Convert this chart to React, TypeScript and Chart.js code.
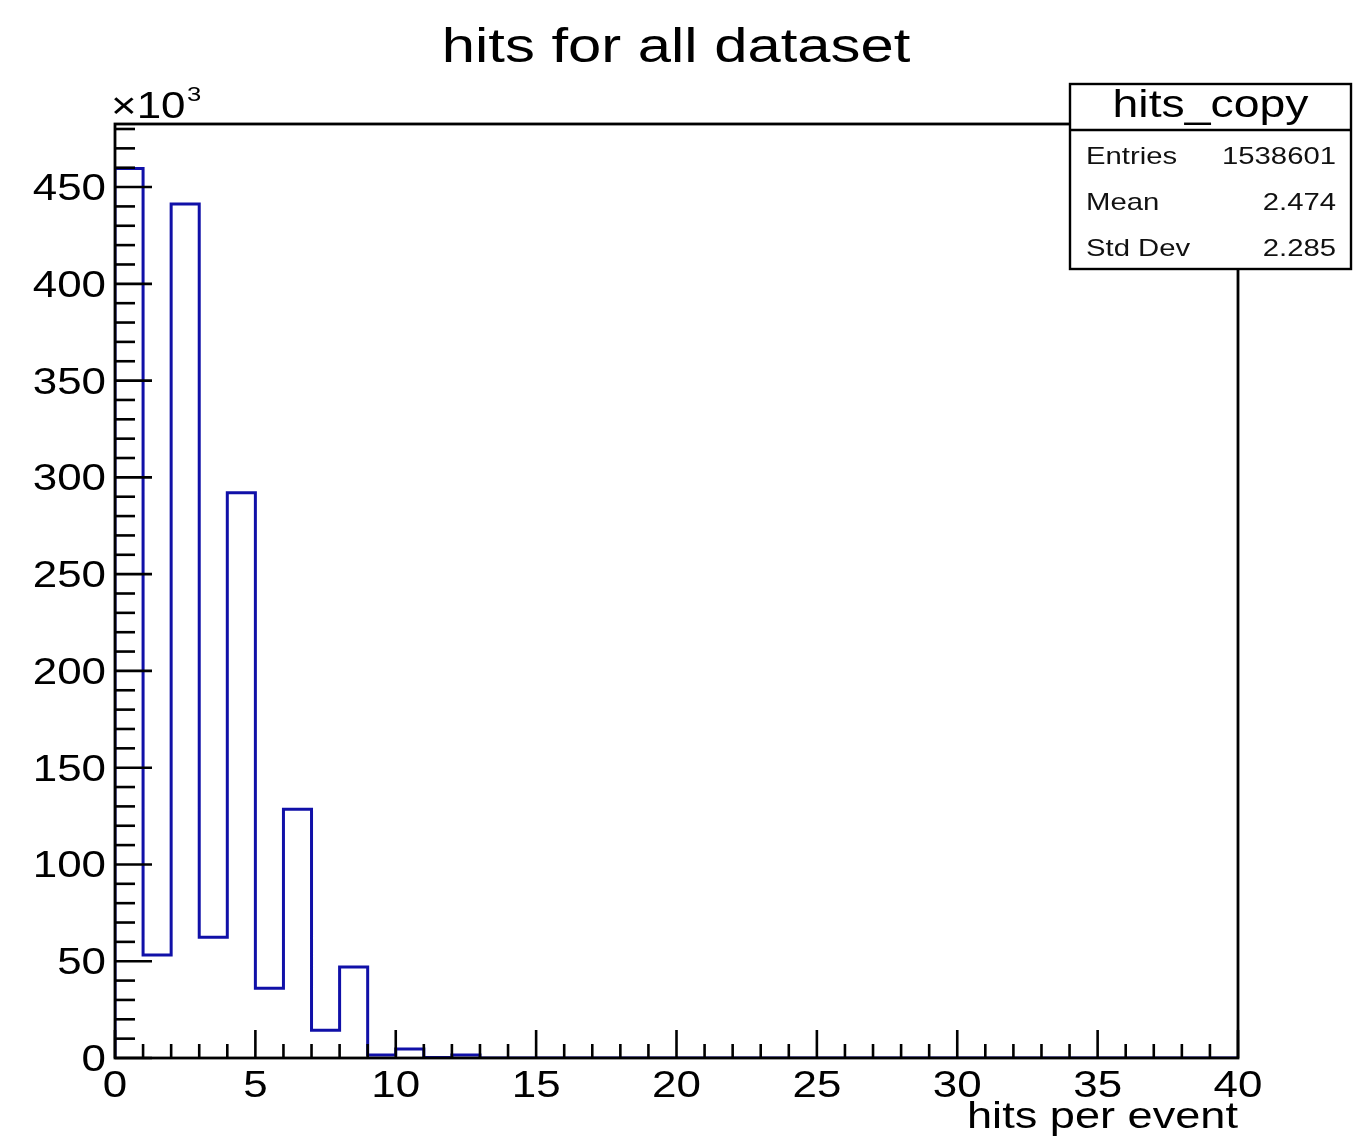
import React, { useEffect, useRef } from "react";
import { Chart, registerables } from "chart.js";

Chart.register(...registerables);

// Histogram "hits_copy": entries per unit-wide bin, in thousands (axis shows ×10³)
const xMin = 0;
const xMax = 40;
const binWidth = 1;
const counts = [
  459.6, 53.2, 441.2, 62.4, 292.1, 36.1, 128.5, 14.4, 47.0, 1.6,
  4.6, 0.2, 1.6, 0, 0, 0, 0, 0, 0, 0,
  0, 0, 0, 0, 0, 0, 0, 0, 0, 0,
  0, 0, 0, 0, 0, 0, 0, 0, 0, 0,
];

const yTickLabels = [0, 50, 100, 150, 200, 250, 300, 350, 400, 450];
const xTickLabels = [0, 5, 10, 15, 20, 25, 30, 35, 40];
const yMinorStep = 10;
const xMinorStep = 1;

const titleText = "hits for all dataset";
const xAxisTitle = "hits per event";
const statsTitle = "hits_copy";
const statLabels = ["Entries", "Mean", "Std Dev"];
const statValues = ["1538601", "2.474", "2.285"];

const yMax = 1.05 * Math.max(...counts);

const FONT = '"Liberation Sans", Arial, Helvetica, sans-serif';
const STRETCH = 1.22;
const LINE_BLUE = "#1010a8";

function drawText(
  ctx: CanvasRenderingContext2D,
  text: string,
  x: number,
  y: number,
  size: number,
  align: CanvasTextAlign,
  color = "#000"
) {
  ctx.save();
  ctx.font = `${size}px ${FONT}`;
  ctx.fillStyle = color;
  ctx.textAlign = align;
  ctx.textBaseline = "alphabetic";
  ctx.translate(x, y);
  ctx.scale(STRETCH, 1);
  ctx.fillText(text, 0, 0);
  ctx.restore();
}

function seg(ctx: CanvasRenderingContext2D, x1: number, y1: number, x2: number, y2: number) {
  ctx.beginPath();
  ctx.moveTo(x1, y1);
  ctx.lineTo(x2, y2);
  ctx.stroke();
}

// Frame, inward ticks, labels and statistics box in the ROOT style
const rootFramePlugin = {
  id: "rootFrame",
  afterDraw(chart: any) {
    const { ctx, chartArea: a } = chart;
    const xs = chart.scales.x;
    const ys = chart.scales.y;
    ctx.save();
    ctx.strokeStyle = "#000";
    ctx.lineCap = "butt";

    // frame
    ctx.lineWidth = 2.8;
    ctx.strokeRect(a.left, a.top, a.right - a.left, a.bottom - a.top);

    // y ticks
    ctx.lineWidth = 2.6;
    for (let k = 0; k * yMinorStep <= yMax; k++) {
      const v = k * yMinorStep;
      const py = ys.getPixelForValue(v);
      const len = v % 50 === 0 ? 37 : 20;
      seg(ctx, a.left, py, a.left + len, py);
    }
    // x ticks
    for (let k = 0; xMin + k * xMinorStep <= xMax; k++) {
      const v = xMin + k * xMinorStep;
      const px = xs.getPixelForValue(v);
      const len = v % 5 === 0 ? 28 : 14;
      seg(ctx, px, a.bottom, px, a.bottom - len);
    }

    // y labels
    yTickLabels.forEach((v) => {
      const py = ys.getPixelForValue(v);
      drawText(ctx, String(v), a.left - 9, py + 13, 36, "right");
    });
    // x labels
    xTickLabels.forEach((v) => {
      const px = xs.getPixelForValue(v);
      drawText(ctx, String(v), px, a.bottom + 39, 36, "center");
    });

    // exponent marker
    drawText(ctx, "\u00d710", a.left - 4, a.top - 6, 36, "left");
    drawText(ctx, "3", a.left + 72, a.top - 23, 21, "left");

    // axis title
    drawText(ctx, xAxisTitle, a.right, a.bottom + 70, 37, "right");

    // title
    drawText(ctx, titleText, 676, 62, 49, "center");

    // statistics box
    const bx = 1070, by = 84, bw = 281, bh = 185, hdr = 46;
    ctx.fillStyle = "#fff";
    ctx.fillRect(bx, by, bw, bh);
    ctx.lineWidth = 2.4;
    ctx.strokeRect(bx, by, bw, bh);
    seg(ctx, bx, by + hdr, bx + bw, by + hdr);
    drawText(ctx, statsTitle, bx + bw / 2, by + 33, 38, "center");
    statLabels.forEach((lab, i) => {
      const base = by + 80 + i * 46;
      drawText(ctx, lab, bx + 16, base, 24, "left", "#111");
      drawText(ctx, statValues[i], bx + bw - 15, base, 24, "right", "#111");
    });

    ctx.restore();
  },
};

export default function App() {
  const canvasRef = useRef<HTMLCanvasElement | null>(null);

  useEffect(() => {
    const canvas = canvasRef.current;
    if (!canvas) return;

    // outline of the histogram: rise at the low edge, one step per bin, drop at the high edge
    const points: { x: number; y: number }[] = [{ x: xMin, y: 0 }];
    counts.forEach((c, i) => points.push({ x: xMin + i * binWidth, y: c }));
    points.push({ x: xMin + counts.length * binWidth, y: 0 });

    const chart = new Chart(canvas, {
      type: "line",
      data: {
        datasets: [
          {
            data: points,
            stepped: "before",
            borderColor: LINE_BLUE,
            borderWidth: 3,
            borderJoinStyle: "miter",
            borderCapStyle: "butt",
            pointRadius: 0,
            fill: false,
            tension: 0,
          },
        ],
      },
      options: {
        responsive: false,
        animation: false,
        devicePixelRatio: 1,
        layout: { padding: { left: 115, right: 115, top: 124, bottom: 80 } },
        plugins: {
          legend: { display: false },
          tooltip: { enabled: false },
          title: { display: false },
        },
        scales: {
          x: {
            type: "linear",
            min: xMin,
            max: xMax,
            grid: { display: false, drawTicks: false },
            border: { display: false },
            ticks: { display: false },
          },
          y: {
            type: "linear",
            min: 0,
            max: yMax,
            grid: { display: false, drawTicks: false },
            border: { display: false },
            ticks: { display: false },
          },
        },
      },
      plugins: [rootFramePlugin],
    });

    return () => chart.destroy();
  }, []);

  return (
    <div
      style={{
        position: "fixed",
        left: 0,
        top: 0,
        width: 1353,
        height: 1138,
        background: "#fff",
      }}
    >
      <canvas ref={canvasRef} width={1353} height={1138} style={{ display: "block" }} />
    </div>
  );
}
